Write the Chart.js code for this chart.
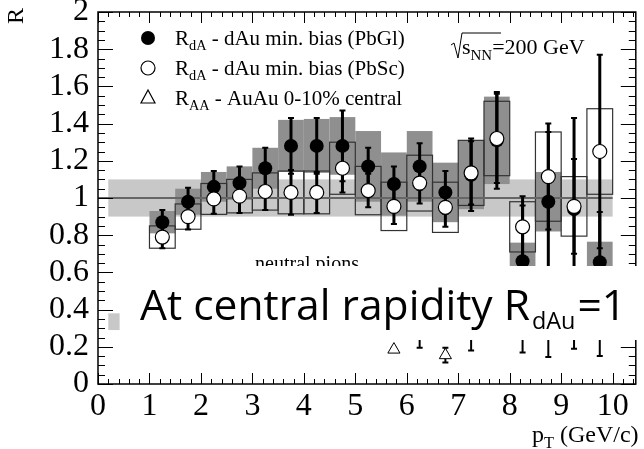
<!DOCTYPE html>
<html>
<head>
<meta charset="utf-8">
<script src="https://cdn.jsdelivr.net/npm/chart.js@4.4.1/dist/chart.umd.min.js"></script>
<style>
  html, body { margin: 0; padding: 0; background: #fff; }
  #wrap { width: 644px; height: 449px; }
</style>
</head>
<body>
<div id="wrap"><canvas id="rChart" width="644" height="449"></canvas></div>
<script>
// pT bin centres (GeV/c), bins are 0.5 wide
const ptBins = [1.25, 1.75, 2.25, 2.75, 3.25, 3.75, 4.25, 4.75, 5.25, 5.75, 6.25, 6.75, 7.25, 7.75, 8.25, 8.75, 9.25, 9.75];
const binHalf = 0.25;

// R_dA, dAu min. bias, PbGl (filled)
const rdaPbGl  = [0.87, 0.98, 1.06, 1.08, 1.16, 1.28, 1.28, 1.28, 1.17, 1.075, 1.17, 1.03, 1.125, 1.31, 0.66, 0.98, 0.94, 0.655];
const statPbGl = [0.065, 0.075, 0.085, 0.09, 0.11, 0.15, 0.15, 0.19, 0.10, 0.095, 0.125, 0.115, 0.195, 0.26, 0.30, 0.375, 0.49, 0.27];
const sysPbGl  = [0.06, 0.07, 0.08, 0.09, 0.11, 0.14, 0.145, 0.155, 0.19, 0.17, 0.19, 0.16, 0.185, 0.235, 0.10, 0.16, null, 0.11];

// R_dA, dAu min. bias, PbSc (open)
const rdaPbSc  = [0.79, 0.90, 0.995, 1.01, 1.035, 1.03, 1.03, 1.16, 1.04, 0.955, 1.08, 0.95, 1.135, 1.32, 0.845, 1.115, 0.955, 1.25];
const statPbSc = [0.06, 0.07, 0.08, 0.09, 0.10, 0.12, 0.11, 0.13, 0.09, 0.095, 0.11, 0.105, 0.17, 0.24, 0.165, 0.285, 0.255, 0.52];
const sysPbSc  = [0.06, 0.068, 0.083, 0.09, 0.10, 0.115, 0.115, 0.14, 0.13, 0.13, 0.15, 0.135, 0.175, 0.20, 0.135, 0.24, 0.16, 0.23];

// R_AA, AuAu 0-10% central (triangles)
const raaAuAu  = [0.33, 0.37, 0.40, 0.40, 0.37, 0.33, 0.30, 0.28, 0.28, 0.185, 0.26, 0.155, 0.26, 0.30, 0.27, 0.26, 0.28, 0.28];
const statAuAu = [0.02, 0.02, 0.02, 0.02, 0.02, 0.02, 0.02, 0.02, 0.015, 0.01, 0.065, 0.04, 0.08, 0.05, 0.10, 0.115, 0.09, 0.13];

// normalisation uncertainties
const normBandR = [0.9, 1.1];
const normBandPt = [0.2, 10.0];
const normAuAuR = [0.29, 0.38];
const normAuAuPt = [0.2, 0.42];

const xRange = [0, 10.45];
const yRange = [0, 2];

const serif = '"Liberation Serif", "Times New Roman", serif';
const toXY = (vals) => ptBins.map((pt, i) => (vals[i] == null ? null : { x: pt, y: vals[i] }));

function subText(ctx, x, y, parts, size) {
  // parts: [text, isSub]
  ctx.textAlign = 'left';
  ctx.textBaseline = 'alphabetic';
  parts.forEach(([t, sub]) => {
    const s = sub ? size * 0.68 : size;
    ctx.font = s + 'px ' + serif;
    ctx.fillText(t, x, y + (sub ? size * 0.25 : 0));
    x += ctx.measureText(t).width;
  });
  return x;
}

const rootPlot = {
  id: 'rootPlot',
  beforeDatasetsDraw(chart) {
    const { ctx, scales: { x, y } } = chart;
    const px = v => x.getPixelForValue(v);
    const py = v => y.getPixelForValue(v);
    ctx.save();

    ctx.fillStyle = '#c8c8c8';
    ctx.fillRect(px(normBandPt[0]), py(normBandR[1]), px(normBandPt[1]) - px(normBandPt[0]), py(normBandR[0]) - py(normBandR[1]));
    ctx.fillRect(px(normAuAuPt[0]), py(normAuAuR[1]), px(normAuAuPt[1]) - px(normAuAuPt[0]), py(normAuAuR[0]) - py(normAuAuR[1]));

    // PbGl systematic boxes
    ctx.fillStyle = '#8f8f8f';
    ptBins.forEach((pt, i) => {
      if (sysPbGl[i] == null) return;
      const x0 = px(pt - binHalf), x1 = px(pt + binHalf);
      const y0 = py(rdaPbGl[i] + sysPbGl[i]), y1 = py(rdaPbGl[i] - sysPbGl[i]);
      ctx.fillRect(x0, y0, x1 - x0, y1 - y0);
    });

    // PbSc systematic boxes (outlined)
    ctx.strokeStyle = '#333';
    ctx.lineWidth = 1.2;
    ptBins.forEach((pt, i) => {
      const x0 = px(pt - binHalf), x1 = px(pt + binHalf);
      const y0 = py(rdaPbSc[i] + sysPbSc[i]), y1 = py(rdaPbSc[i] - sysPbSc[i]);
      ctx.strokeRect(x0, y0, x1 - x0, y1 - y0);
    });

    // R = 1
    ctx.strokeStyle = '#666';
    ctx.lineWidth = 2;
    ctx.beginPath();
    ctx.moveTo(px(0), py(1));
    ctx.lineTo(px(normBandPt[1]), py(1));
    ctx.stroke();

    // statistical error bars
    ctx.strokeStyle = '#000';
    const bars = (vals, errs, w) => {
      ptBins.forEach((pt, i) => {
        if (vals[i] == null) return;
        const xc = px(pt), yt = py(vals[i] + errs[i]), yb = py(vals[i] - errs[i]);
        ctx.lineWidth = w;
        ctx.beginPath();
        ctx.moveTo(xc, yt); ctx.lineTo(xc, yb);
        ctx.stroke();
        ctx.lineWidth = 2;
        ctx.beginPath();
        ctx.moveTo(xc - 3, yt); ctx.lineTo(xc + 3, yt);
        ctx.moveTo(xc - 3, yb); ctx.lineTo(xc + 3, yb);
        ctx.stroke();
      });
    };
    bars(raaAuAu, statAuAu, 2);
    bars(rdaPbSc, statPbSc, 3);
    bars(rdaPbGl, statPbGl, 3);
    ctx.restore();
  },
  afterDraw(chart) {
    const { ctx, chartArea: a, scales: { x, y } } = chart;
    ctx.save();
    ctx.strokeStyle = '#000';
    ctx.lineWidth = 1;

    // inward ticks on all sides
    ctx.beginPath();
    for (let i = 0; i * 0.2 <= xRange[1] + 1e-9; i++) {
      const xp = Math.round(x.getPixelForValue(i * 0.2)) + 0.5;
      const len = i % 5 === 0 ? 11 : 5;
      ctx.moveTo(xp, a.bottom); ctx.lineTo(xp, a.bottom - len);
      ctx.moveTo(xp, a.top); ctx.lineTo(xp, a.top + len);
    }
    for (let i = 0; i * 0.05 <= yRange[1] + 1e-9; i++) {
      const yp = Math.round(y.getPixelForValue(i * 0.05)) + 0.5;
      const len = i % 4 === 0 ? 15 : 7;
      ctx.moveTo(a.left, yp); ctx.lineTo(a.left + len, yp);
      ctx.moveTo(a.right, yp); ctx.lineTo(a.right - len, yp);
    }
    ctx.stroke();
    ctx.lineWidth = 1.5;
    ctx.strokeRect(a.left, a.top, a.right - a.left, a.bottom - a.top);

    // legend
    ctx.fillStyle = '#000';
    ctx.beginPath(); ctx.arc(148, 38, 7, 0, Math.PI * 2); ctx.fill();
    ctx.beginPath(); ctx.arc(148, 68, 7, 0, Math.PI * 2);
    ctx.fillStyle = '#fff'; ctx.fill(); ctx.lineWidth = 1.2; ctx.stroke();
    ctx.beginPath(); ctx.moveTo(148, 90); ctx.lineTo(155, 103); ctx.lineTo(141, 103); ctx.closePath(); ctx.stroke();
    ctx.fillStyle = '#000';
    subText(ctx, 175, 45, [['R', false], ['dA', true], [' - dAu min. bias (PbGl)', false]], 21);
    subText(ctx, 175, 75, [['R', false], ['dA', true], [' - dAu min. bias (PbSc)', false]], 21);
    subText(ctx, 175, 105, [['R', false], ['AA', true], [' - AuAu 0-10% central', false]], 21);

    // sqrt(s_NN)
    ctx.lineWidth = 1;
    ctx.beginPath();
    ctx.moveTo(451, 45); ctx.lineTo(454, 43); ctx.lineTo(458, 58); ctx.lineTo(462, 33); ctx.lineTo(501, 33);
    ctx.stroke();
    subText(ctx, 462, 54, [['s', false], ['NN', true], ['=200 GeV', false]], 22);

    // axis titles
    subText(ctx, 532, 442, [['p', false], ['T', true], [' (GeV/c)', false]], 24);
    ctx.save();
    ctx.translate(23, 16);
    ctx.rotate(-Math.PI / 2);
    ctx.font = '24px ' + serif;
    ctx.textAlign = 'center';
    ctx.textBaseline = 'alphabetic';
    ctx.fillText('R', 0, 0);
    ctx.restore();

    ctx.font = '20px ' + serif;
    ctx.textAlign = 'center';
    ctx.fillText('neutral pions', 307, 270);

    // white text box pasted over the plot
    ctx.fillStyle = '#fff';
    ctx.fillRect(127, 266, 510, 74);
    ctx.fillStyle = '#000';
    const sans = '"Open Sans", "Noto Sans", sans-serif';
    const main = 'At central rapidity R', sub = 'dAu', tail = '=1', subK = 0.55;
    ctx.font = '100px ' + sans;
    const wm = ctx.measureText(main).width, wt = ctx.measureText(tail).width;
    ctx.font = (100 * subK) + 'px ' + sans;
    const ws = ctx.measureText(sub).width;
    const fs = 100 * 484 / (wm + ws + wt + 4);
    ctx.textAlign = 'left';
    let xx = 140;
    ctx.font = fs + 'px ' + sans;
    ctx.fillText(main, xx, 320);
    xx += ctx.measureText(main).width + 2;
    ctx.font = (fs * subK) + 'px ' + sans;
    ctx.fillText(sub, xx, 329);
    xx += ctx.measureText(sub).width + 2;
    ctx.font = fs + 'px ' + sans;
    ctx.fillText(tail, xx, 320);
    ctx.restore();
  }
};

new Chart(document.getElementById('rChart'), {
  type: 'scatter',
  data: {
    datasets: [
      {
        label: 'PbSc',
        data: toXY(rdaPbSc),
        pointRadius: 7,
        pointBackgroundColor: '#fff',
        pointBorderColor: '#000',
        pointBorderWidth: 1.2,
        order: 0
      },
      {
        label: 'PbGl',
        data: toXY(rdaPbGl),
        pointRadius: 7,
        pointBackgroundColor: '#000',
        pointBorderColor: '#000',
        pointBorderWidth: 0,
        order: 1
      },
      {
        label: 'AuAu',
        data: toXY(raaAuAu),
        pointStyle: 'triangle',
        pointRadius: 7,
        pointBackgroundColor: '#fff',
        pointBorderColor: '#000',
        pointBorderWidth: 1,
        order: 2
      }
    ]
  },
  options: {
    responsive: false,
    animation: false,
    devicePixelRatio: 1,
    layout: { padding: { top: 12, right: 4, left: 0, bottom: 0 } },
    plugins: { legend: { display: false }, tooltip: { enabled: false } },
    scales: {
      x: {
        type: 'linear',
        min: xRange[0],
        max: xRange[1],
        grid: { display: false, drawTicks: false },
        border: { display: false },
        ticks: {
          stepSize: 1,
          includeBounds: false,
          maxRotation: 0,
          autoSkip: false,
          padding: 3,
          color: '#000',
          font: { family: serif, size: 32 }
        },
        afterFit(scale) {
          scale.height = 65;
          scale.paddingLeft = 0;
          scale.paddingRight = 0;
        }
      },
      y: {
        min: yRange[0],
        max: yRange[1],
        grid: { display: false, drawTicks: false },
        border: { display: false },
        ticks: {
          stepSize: 0.2,
          autoSkip: false,
          padding: 9,
          color: '#000',
          font: { family: serif, size: 32 },
          callback: v => String(Math.round(v * 10) / 10)
        },
        afterFit(scale) {
          scale.width = 98;
          scale.paddingTop = 0;
          scale.paddingBottom = 0;
        }
      }
    }
  },
  plugins: [rootPlot]
});
</script>
</body>
</html>
